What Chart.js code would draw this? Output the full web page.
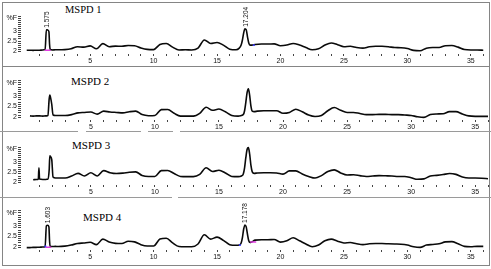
<!DOCTYPE html>
<html>
<head>
<meta charset="utf-8">
<script src="https://cdn.jsdelivr.net/npm/chart.js@4"></script>
<style>
  html, body { margin: 0; padding: 0; background: #fff; }
  body { width: 491px; height: 269px; position: relative; overflow: hidden; }
  .pane { position: absolute; left: 3px; width: 486px; }
  .rule { position: absolute; background: #858585; }
  .ttl { position: absolute; font-family: "Liberation Serif", "DejaVu Serif", serif; color: #000;
         white-space: nowrap; line-height: 1; }
</style>
</head>
<body>
<div class="ttl" style="left:65px; top:5px; font-size:10.5px">MSPD 1</div>
<div class="ttl" style="left:71px; top:76px; font-size:11px">MSPD 2</div>
<div class="ttl" style="left:72px; top:140px; font-size:11px">MSPD 3</div>
<div class="ttl" style="left:83px; top:212px; font-size:11px">MSPD 4</div>
<script>
/* Four stacked chromatograms (MSPD 1-4), %F vs retention time (min).
   Values; shared time grid, finer around the two main peaks. */

// ---- retention time grid (min)
const timeMin = [
  0, 0.25, 0.5, 0.75, 0.9, 0.95, 1.0, 1.25, 1.45, 1.55, 1.65, 1.75, 1.8, 1.85, 1.95, 2.05, 2.25,
  2.5, 3, 3.5, 4, 4.5, 5, 5.5, 6, 6.5, 7, 7.5, 8, 8.5, 9, 9.5, 10, 10.5, 11, 11.5, 12,
  12.5, 13, 13.5, 14, 14.5, 15, 15.5, 16, 16.5,
  16.75, 16.9, 17, 17.1, 17.2, 17.3, 17.4, 17.5, 17.6, 17.75,
  18, 18.5, 19, 19.5, 20, 20.5, 21, 21.5, 22, 22.5, 23, 23.5, 24, 24.5, 25, 25.5, 26, 26.5,
  27, 27.5, 28, 28.5, 29, 29.5, 30, 30.5, 31, 31.5, 32, 32.5, 33, 33.5, 34, 34.5, 35, 35.5, 36
];

// ---- %F traces, one value per grid point
const mspd1 = [
  2.05, 2.05, 2.04, 2.05, 2.05, 2.05, 2.05, 2.06, 2.08, 3.05, 3.04, 2.96, 2.35, 2.1, 2.07, 2.06, 2.07,
  2.07, 2.08, 2.12, 2.22, 2.2, 2.26, 2.12, 2.37, 2.22, 2.25, 2.24, 2.28, 2.27, 2.16, 2.09, 2.08, 2.33, 2.38, 2.2, 2.06,
  2.07, 2.06, 2.15, 2.55, 2.38, 2.43, 2.3, 2.1, 2.07,
  2.15, 2.3, 2.55, 2.9, 3.1, 3.05, 2.7, 2.4, 2.3, 2.3,
  2.33, 2.35, 2.35, 2.36, 2.27, 2.3, 2.38, 2.3, 2.18, 2.07, 2.12, 2.3, 2.4, 2.32, 2.22, 2.24, 2.18, 2.15,
  2.22, 2.24, 2.24, 2.22, 2.18, 2.17, 2.13, 2.04, 2.02, 2.15, 2.18, 2.18, 2.27, 2.28, 2.2, 2.08, 2.06, 2.06, 2.05
];
const mspd2 = [
  null, 2.06, 2.05, 2.06, 2.06, 2.06, 2.06, 2.05, 2.06, 2.06, 2.08, 2.85, 3.03, 2.93, 2.6, 2.1, 2.08,
  2.08, 2.08, 2.12, 2.2, 2.22, 2.24, 2.14, 2.28, 2.24, 2.22, 2.2, 2.25, 2.28, 2.12, 2.07, 2.08, 2.35, 2.36, 2.18, 2.05,
  2.05, 2.05, 2.18, 2.46, 2.32, 2.38, 2.25, 2.08, 2.05,
  2.08, 2.12, 2.3, 2.7, 3.15, 3.32, 3.0, 2.5, 2.28, 2.26,
  2.28, 2.3, 2.3, 2.3, 2.18, 2.22, 2.37, 2.25, 2.1, 2.03, 2.08, 2.3, 2.45, 2.32, 2.22, 2.22, 2.17, 2.12,
  2.12, 2.13, 2.13, 2.12, 2.12, 2.1, 2.08, 2.02, 1.99, 2.12, 2.15, 2.16, 2.26, 2.26, 2.15, 2.06, 2.04, 2.04, 2.04
];
const mspd3 = [
  null, null, 2.12, 2.13, 2.14, 2.7, 2.15, 2.13, 2.13, 2.14, 2.15, 2.6, 3.28, 3.25, 3.1, 2.25, 2.2,
  2.2, 2.2, 2.3, 2.43, 2.3, 2.46, 2.3, 2.56, 2.46, 2.42, 2.44, 2.48, 2.5, 2.33, 2.28, 2.28, 2.56, 2.57, 2.42, 2.28,
  2.27, 2.27, 2.38, 2.7, 2.52, 2.58, 2.45, 2.28, 2.27,
  2.3, 2.4, 2.7, 3.2, 3.6, 3.68, 3.35, 2.8, 2.5, 2.43,
  2.45, 2.46, 2.46, 2.45, 2.39, 2.55, 2.55, 2.4, 2.28, 2.2, 2.32, 2.52, 2.6, 2.45, 2.35, 2.36, 2.32, 2.28,
  2.3, 2.32, 2.31, 2.3, 2.28, 2.28, 2.22, 2.14, 2.16, 2.3, 2.33, 2.37, 2.42, 2.38, 2.25, 2.2, 2.2, 2.19, 2.17
];
const mspd4 = [
  1.98, 1.98, 1.99, 1.99, 2.0, 2.0, 2.0, 2.01, 2.02, 3.0, 3.03, 2.95, 2.3, 2.05, 2.03, 2.03, 2.04,
  2.03, 2.05, 2.1, 2.17, 2.2, 2.23, 2.12, 2.38, 2.24, 2.18, 2.17, 2.28, 2.25, 2.12, 2.06, 2.06, 2.38, 2.42, 2.2, 2.03,
  2.02, 2.02, 2.15, 2.58, 2.38, 2.47, 2.32, 2.12, 2.09,
  2.1, 2.2, 2.45, 2.85, 3.04, 2.95, 2.6, 2.3, 2.22, 2.25,
  2.33, 2.35, 2.35, 2.36, 2.24, 2.3, 2.44, 2.3, 2.15, 2.02, 2.1, 2.3, 2.38, 2.28, 2.2, 2.22, 2.16, 2.12,
  2.16, 2.17, 2.17, 2.16, 2.15, 2.14, 2.1, 2.02, 1.99, 2.1, 2.13, 2.16, 2.25, 2.26, 2.16, 2.04, 2.02, 2.04, 2.04
];

// ---- integrated peaks (apex time, apex %F, label)
const p1PeakT = [1.575, 17.204], p1PeakV = [3.05, 3.1], p1PeakText = ["1.575", "17.204"];
const p4PeakT = [1.603, 17.178], p4PeakV = [3.03, 3.04], p4PeakText = ["1.603", "17.178"];

// ---- integration baseline markers
const p1MagentaT = [1.65], p1MagentaV = [2.05];
const p1BlueT = [17.9], p1BlueV = [2.3];
const p4MagentaT = [1.7, 17.85], p4MagentaV = [2.0, 2.24];
const p4BlueT = [1.47, 16.8], p4BlueV = [2.04, 2.1];

// ---- axes
const xTickVals = [1, 2, 3, 4, 5, 6, 7, 8, 9, 10, 11, 12, 13, 14, 15, 16, 17, 18,
                   19, 20, 21, 22, 23, 24, 25, 26, 27, 28, 29, 30, 31, 32, 33, 34, 35, 36];
const xLabelVals = [5, 10, 15, 20, 25, 30, 35];
const yTickVals = [2.0, 2.1, 2.2, 2.3, 2.4, 2.5, 2.6, 2.7, 2.8, 2.9, 3.0, 3.1, 3.2, 3.3, 3.4, 3.5, 3.6, 3.7];
const yLabelVals = [2, 2.5, 3, 3.6];
const yLabelText = ["2", "2.5", "3", "%F"];

// ---- page layout (px)
const X_MIN = -0.45, X_MAX = 36, Y_AXIS_W = 18, PAD_TOP = 2;
const TXT = "#111", TICK = "#444";
const pts = (ts, vs) => ts.map((t, i) => ({ x: t, y: vs[i] }));

const PANELS = [
  { data: mspd1, top: 3,   height: 63, axisY: 54,  zeroY: 51,  ppu: 22,
    peaks: [p1PeakT, p1PeakV, p1PeakText], magenta: pts(p1MagentaT, p1MagentaV), blue: pts(p1BlueT, p1BlueV) },
  { data: mspd2, top: 67,  height: 64, axisY: 120, zeroY: 117, ppu: 23 },
  { data: mspd3, top: 133, height: 64, axisY: 185, zeroY: 182, ppu: 22 },
  { data: mspd4, top: 198, height: 67, axisY: 250, zeroY: 247, ppu: 23,
    peaks: [p4PeakT, p4PeakV, p4PeakText], magenta: pts(p4MagentaT, p4MagentaV), blue: pts(p4BlueT, p4BlueV) },
];

// rotated retention-time labels above the integrated peaks
const peakLabels = {
  id: "peakLabels",
  afterDatasetsDraw(chart, args, opts) {
    if (!opts.peaks) return;
    const [ts, vs, txt] = opts.peaks, { x, y } = chart.scales, ctx = chart.ctx;
    ctx.save();
    ctx.fillStyle = TXT;
    ctx.font = '6.5px "Liberation Sans", Arial, sans-serif';
    ctx.textAlign = "left"; ctx.textBaseline = "middle";
    ts.forEach((t, i) => {
      ctx.save();
      ctx.translate(x.getPixelForValue(t) + 1, y.getPixelForValue(vs[i]) - 2);
      ctx.rotate(-Math.PI / 2);
      ctx.fillText(txt[i], 0, 0);
      ctx.restore();
    });
    ctx.restore();
  },
};

function makePanel(p) {
  const box = document.createElement("div");
  box.className = "pane";
  box.style.top = p.top + "px";
  box.style.height = p.height + "px";
  const cv = document.createElement("canvas");
  box.appendChild(cv);
  document.body.appendChild(box);

  const xAxisH = p.top + p.height - p.axisY;
  const yMin = 2 - (p.axisY - p.zeroY) / p.ppu;
  const yMax = 2 + (p.zeroY - (p.top + PAD_TOP)) / p.ppu;

  const datasets = [{
    data: pts(timeMin, p.data), borderColor: "#0a0a0a", borderWidth: 1.6,
    pointRadius: 0, cubicInterpolationMode: "monotone", spanGaps: false, order: 2,
  }];
  if (p.magenta) datasets.push({ data: p.magenta, showLine: false, pointStyle: "line",
    pointRadius: 3, borderColor: "#e03ce0", borderWidth: 1.5, order: 1 });
  if (p.blue) datasets.push({ data: p.blue, showLine: false, pointStyle: "rect",
    pointRadius: 1.3, borderColor: "#3b3bff", backgroundColor: "#3b3bff", borderWidth: 0, order: 0 });

  const font = { size: 7, family: '"Liberation Sans", Arial, sans-serif' };
  new Chart(cv, {
    type: "line",
    data: { datasets },
    options: {
      responsive: true, maintainAspectRatio: false, animation: false, devicePixelRatio: 1,
      layout: { padding: { top: PAD_TOP, right: 0, bottom: 0, left: 0 } },
      plugins: { legend: { display: false }, tooltip: { enabled: false }, peakLabels: { peaks: p.peaks } },
      scales: {
        x: {
          type: "linear", min: X_MIN, max: X_MAX,
          afterFit: s => { s.height = xAxisH; },
          afterBuildTicks: s => { s.ticks = xTickVals.map(v => ({ value: v })); },
          border: { display: false },
          grid: { drawOnChartArea: false, tickLength: 2, color: TICK },
          ticks: { autoSkip: false, maxRotation: 0, padding: 1, font, color: TXT,
                   callback: v => xLabelVals.includes(v) ? String(v) : "" },
        },
        y: {
          min: yMin, max: yMax,
          afterFit: s => { s.width = Y_AXIS_W; },
          afterBuildTicks: s => { s.ticks = yTickVals.map(v => ({ value: v })); },
          border: { display: false },
          grid: { drawOnChartArea: false, tickLength: 3, color: TICK },
          ticks: { autoSkip: false, padding: 1, font, color: TXT,
                   callback: v => { const i = yLabelVals.findIndex(l => Math.abs(l - v) < 1e-6);
                                    return i < 0 ? "" : yLabelText[i]; } },
        },
      },
    },
    plugins: [peakLabels],
  });
}

// ---- frame and separators of the scanned figure
function rule(l, t, w, h, c) {
  const d = document.createElement("div");
  d.className = "rule";
  Object.assign(d.style, { left: l + "px", top: t + "px", width: w + "px", height: h + "px" });
  if (c) d.style.background = c;
  document.body.appendChild(d);
}
rule(2, 2, 488, 1); rule(2, 2, 1, 264); rule(489, 2, 1, 264); rule(2, 265, 488, 1);
rule(2, 66, 488, 1);
[[0, 78], [86, 141], [148, 173], [180, 491]].forEach(([a, b]) => rule(a, 131, b - a, 1, "#9a9a9a"));
[[0, 172], [178, 491]].forEach(([a, b]) => rule(a, 197, b - a, 1, "#9a9a9a"));

PANELS.forEach(makePanel);
</script>
</body>
</html>
